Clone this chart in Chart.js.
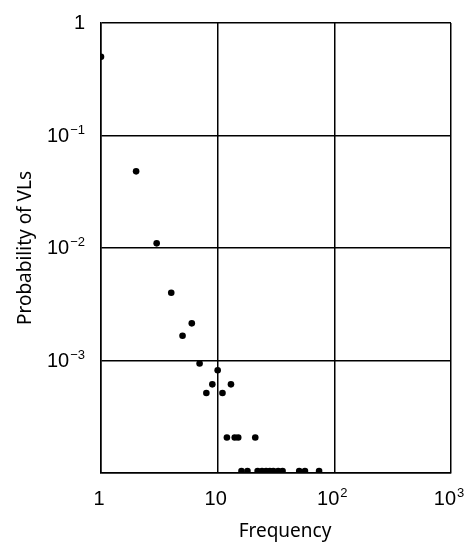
<!DOCTYPE html>
<html lang="en">
<head>
    <meta charset="UTF-8">
    <title>Probability of VLs vs Frequency</title>
    <script src="https://cdn.jsdelivr.net/npm/chart.js"></script>
    <style>
        body {
            margin: 0;
            background: #fff;
        }
        #wrap {
            width: 470px;
            height: 550px;
        }
    </style>
</head>
<body>
    <div id="wrap">
        <canvas id="vlChart" width="470" height="550"></canvas>
    </div>

    <script>
        // frequency of each observation and its probability
        const freq = [1, 2, 3, 4, 5, 6, 7, 8, 9, 10, 11, 13,
                      12, 14, 15, 21,
                      16, 18, 22, 24, 26, 28, 30, 33, 36, 50, 56, 74];
        const prob = [0.5, 0.048, 0.011, 0.004, 0.00166, 0.00214, 0.00094, 0.000514, 0.000614, 0.00082, 0.000514, 0.000614,
                      0.000207, 0.000207, 0.000207, 0.000207,
                      0.000104, 0.000104, 0.000104, 0.000104, 0.000104, 0.000104, 0.000104, 0.000104, 0.000104, 0.000104, 0.000104, 0.000104];

        // tick values, and their labels split into base and exponent
        const xTicks = [1, 10, 100, 1000];
        const xTickBase = ['1', '10', '10', '10'];
        const xTickExp = ['', '', '2', '3'];
        const yTicks = [0.0001, 0.001, 0.01, 0.1, 1];
        const yTickBase = ['', '10', '10', '10', '1'];
        const yTickExp = ['', '\u22123', '\u22122', '\u22121', ''];
        const xTitle = 'Frequency';

        const tickFont = '"Liberation Sans", Arial, sans-serif';
        const titleFont = '"Noto Sans", "Open Sans", sans-serif';

        const points = freq.map((f, i) => ({ x: f, y: prob[i] }));

        // draws tick labels with raised exponents (10^-1 etc.) and the x title
        const powerLabels = {
            id: 'powerLabels',
            afterDraw(chart) {
                const c = chart.ctx;
                const xs = chart.scales.x;
                const ys = chart.scales.y;
                const baseFont = '20px ' + tickFont;
                const expFont = '13px ' + tickFont;
                c.save();
                c.fillStyle = '#000';
                c.textBaseline = 'alphabetic';
                c.textAlign = 'left';

                const measure = (base, exp) => {
                    c.font = baseFont;
                    const wb = c.measureText(base).width;
                    c.font = expFont;
                    const we = exp ? c.measureText(exp).width + 1 : 0;
                    return [wb, we];
                };
                const put = (base, exp, left, baseline, wb) => {
                    c.font = baseFont;
                    c.fillText(base, left, baseline);
                    if (exp) {
                        c.font = expFont;
                        c.fillText(exp, left + wb + 1, baseline - 8);
                    }
                };

                xTicks.forEach((v, i) => {
                    const [wb, we] = measure(xTickBase[i], xTickExp[i]);
                    const px = xs.getPixelForValue(v) - 2;
                    put(xTickBase[i], xTickExp[i], px - (wb + we) / 2, xs.top + 32, wb);
                });
                yTicks.forEach((v, i) => {
                    if (!yTickBase[i]) return;
                    const [wb, we] = measure(yTickBase[i], yTickExp[i]);
                    const py = ys.getPixelForValue(v);
                    put(yTickBase[i], yTickExp[i], ys.right - 16 - (wb + we), py + 6, wb);
                });

                // x axis title sits a little right of the plot centre
                c.font = '19px ' + titleFont;
                c.textAlign = 'center';
                c.fillText(xTitle, (xs.left + xs.right) / 2 + 9, xs.top + 64);
                c.restore();
            }
        };

        const ctx = document.getElementById('vlChart').getContext('2d');
        new Chart(ctx, {
            type: 'scatter',
            data: {
                datasets: [{
                    data: points,
                    backgroundColor: '#000',
                    borderColor: '#000',
                    pointRadius: 3.3,
                    borderWidth: 0
                }]
            },
            options: {
                responsive: false,
                animation: false,
                layout: {
                    padding: { top: 23, right: 19, left: 0, bottom: 0 }
                },
                plugins: {
                    legend: { display: false },
                    tooltip: { enabled: false }
                },
                scales: {
                    x: {
                        type: 'logarithmic',
                        min: 1,
                        max: 1000,
                        afterBuildTicks: scale => {
                            scale.ticks = xTicks.map(v => ({ value: v }));
                        },
                        afterFit: scale => {
                            scale.height = 77;
                            scale.paddingLeft = 0;
                            scale.paddingRight = 0;
                        },
                        grid: {
                            color: '#000',
                            lineWidth: 1.5,
                            drawTicks: false
                        },
                        border: { color: '#000', width: 1.5 },
                        ticks: { display: false },
                        title: { display: false }
                    },
                    y: {
                        type: 'logarithmic',
                        min: 0.0001,
                        max: 1,
                        afterBuildTicks: scale => {
                            scale.ticks = yTicks.map(v => ({ value: v }));
                        },
                        afterFit: scale => {
                            scale.width = 101;
                            scale.paddingTop = 0;
                            scale.paddingBottom = 0;
                        },
                        grid: {
                            color: '#000',
                            lineWidth: 1.5,
                            drawTicks: false
                        },
                        border: { color: '#000', width: 1.5 },
                        ticks: { display: false },
                        title: {
                            display: true,
                            text: 'Probability of VLs',
                            color: '#000',
                            font: { family: titleFont, size: 19 },
                            padding: { top: 14, bottom: 0 }
                        }
                    }
                }
            },
            plugins: [powerLabels]
        });
    </script>
</body>
</html>
